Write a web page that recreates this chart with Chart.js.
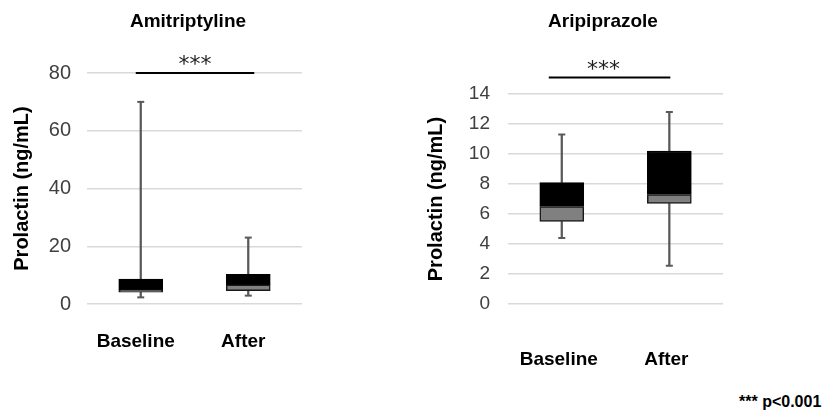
<!DOCTYPE html>
<html>
<head>
<meta charset="utf-8">
<script src="https://cdn.jsdelivr.net/npm/chart.js@4.4.1/dist/chart.umd.min.js"></script>
<style>
  body { margin: 0; background: #fff; width: 828px; height: 416px; position: relative; overflow: hidden;
         font-family: 'Liberation Sans', Arial, sans-serif; }
  .panel { position: absolute; top: 0; height: 380px; }
  #ami { left: 0; width: 312px; }
  #ari { left: 405px; width: 333px; }
  #note { position: absolute; left: 739px; top: 394px; font-size: 16px; font-weight: bold; line-height: 16px; color: #000; }
</style>
</head>
<body>
<div class="panel" id="ami"><canvas id="amiCanvas"></canvas></div>
<div class="panel" id="ari"><canvas id="ariCanvas"></canvas></div>
<div id="note">*** p&lt;0.001</div>
<script>
var categories = ['Baseline', 'After'];

// Amitriptyline, prolactin (ng/mL)
var amiMin = [2.3, 2.9];
var amiQ1 = [4.1, 4.6];
var amiMedian = [4.9, 6.6];
var amiQ3 = [8.6, 10.3];
var amiMax = [70, 23];
var amiTicks = [0, 20, 40, 60, 80];

// Aripiprazole, prolactin (ng/mL)
var ariMin = [4.4, 2.55];
var ariQ1 = [5.5, 6.7];
var ariMedian = [6.5, 7.3];
var ariQ3 = [8.1, 10.2];
var ariMax = [11.3, 12.8];
var ariTicks = [0, 2, 4, 6, 8, 10, 12, 14];

var FONT = "'Liberation Sans', Arial, sans-serif";
var WHISKER = '#595959';

function pairs(a, b) {
  return a.map(function (v, i) { return [v, b[i]]; });
}

// draws the panel title and the significance bar with its stars
var panelExtras = {
  id: 'panelExtras',
  afterDraw: function (chart, args, opts) {
    var ctx = chart.ctx;
    var xs = chart.scales.x, ys = chart.scales.y;
    ctx.save();
    ctx.fillStyle = '#000';
    ctx.textAlign = 'center';
    ctx.textBaseline = 'alphabetic';
    ctx.font = 'bold 19px ' + FONT;
    ctx.fillText(opts.title, opts.titleX, 27);

    var y = ys.getPixelForValue(opts.sigValue);
    var x0 = xs.getPixelForValue(0) + opts.sigFrom;
    var x1 = xs.getPixelForValue(1) + opts.sigTo;
    ctx.strokeStyle = '#000';
    ctx.lineWidth = 2;
    ctx.beginPath();
    ctx.moveTo(x0, y);
    ctx.lineTo(x1, y);
    ctx.stroke();

    ctx.font = "22px 'DejaVu Sans', sans-serif";
    ctx.fillStyle = '#222';
    ctx.fillText('***', (x0 + x1) / 2 + opts.starShift, y - 2);
    ctx.restore();
  }
};

function buildChart(canvas, d, o) {
  return new Chart(canvas.getContext('2d'), {
    type: 'bar',
    data: {
      labels: categories,
      datasets: [
        { data: pairs(d.q3, d.max), backgroundColor: WHISKER, barThickness: 1.6, grouped: false, order: 3 },
        { data: pairs(d.min, d.q1), backgroundColor: WHISKER, barThickness: 1.6, grouped: false, order: 3 },
        { data: pairs(d.q1, d.median), backgroundColor: '#808080', borderColor: '#1a1a1a', borderWidth: 1.5,
          borderSkipped: false, barThickness: 44, grouped: false, order: 2 },
        { data: pairs(d.median, d.q3), backgroundColor: '#000', borderColor: '#000', borderWidth: 1.5,
          borderSkipped: false, barThickness: 44, grouped: false, order: 2 },
        { type: 'line', data: d.min, showLine: false, pointStyle: 'line', pointRadius: 3.5,
          pointBorderWidth: 2, pointBorderColor: WHISKER, order: 1 },
        { type: 'line', data: d.max, showLine: false, pointStyle: 'line', pointRadius: 3.5,
          pointBorderWidth: 2, pointBorderColor: WHISKER, order: 1 }
      ]
    },
    options: {
      responsive: true,
      maintainAspectRatio: false,
      animation: false,
      events: [],
      layout: { padding: { top: o.top, right: 10, bottom: 0, left: 0 } },
      plugins: {
        legend: { display: false },
        tooltip: { enabled: false },
        panelExtras: o.extras
      },
      scales: {
        x: {
          grid: { display: false, drawTicks: false },
          border: { display: false },
          ticks: { color: '#000', padding: o.xPad, labelOffset: o.xShift,
                   font: { family: FONT, size: 19, weight: 'bold' } },
          afterFit: function (s) { s.height = 76; }
        },
        y: {
          min: 0,
          max: o.ticks[o.ticks.length - 1],
          grid: { color: '#d9d9d9', lineWidth: 1.5, drawTicks: false },
          border: { display: false },
          ticks: { color: '#404040', padding: o.yPad, font: { family: FONT, size: o.tickSize } },
          afterBuildTicks: function (s) { s.ticks = o.ticks.map(function (v) { return { value: v }; }); },
          afterFit: function (s) { s.width = o.yWidth; },
          title: { display: true, text: 'Prolactin (ng/mL)', color: '#000', padding: { top: o.titlePad, bottom: 0 },
                   font: { family: FONT, size: 20, weight: 'bold' } }
        }
      }
    },
    plugins: [panelExtras]
  });
}

buildChart(document.getElementById('amiCanvas'),
  { min: amiMin, q1: amiQ1, median: amiMedian, q3: amiQ3, max: amiMax },
  { top: 73, ticks: amiTicks, yWidth: 87, yPad: 16, titlePad: 10, xPad: 26, xShift: -5, tickSize: 20,
    extras: { title: 'Amitriptyline', titleX: 188, sigValue: 80, sigFrom: -5, sigTo: 6, starShift: 0 } });

buildChart(document.getElementById('ariCanvas'),
  { min: ariMin, q1: ariQ1, median: ariMedian, q3: ariQ3, max: ariMax },
  { top: 94, ticks: ariTicks, yWidth: 103, yPad: 18, titlePad: 19, xPad: 44, xShift: -3, tickSize: 19,
    extras: { title: 'Aripiprazole', titleX: 198, sigValue: 15.1, sigFrom: -13, sigTo: 1, starShift: -6 } });
</script>
</body>
</html>
